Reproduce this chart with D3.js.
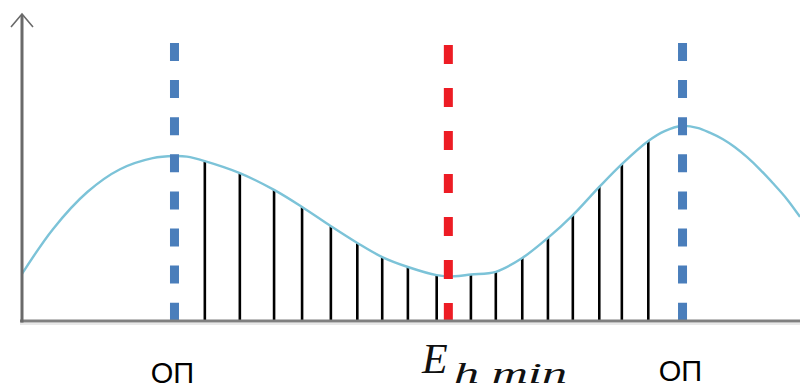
<!DOCTYPE html>
<html>
<head>
<meta charset="utf-8">
<script src="https://cdn.jsdelivr.net/npm/d3@7"></script>
<style>
  html, body { margin: 0; padding: 0; background: #fff; }
  svg { display: block; }
</style>
</head>
<body>
<svg id="chart" width="800" height="389"></svg>
<script>
// Energy profile along the coordinate (arbitrary units, 0..100 on both axes)
const curveX = [0, 4.0, 8.4, 12.6, 16.8, 19.6, 21.2,
                55.6, 82.6, 84.8, 86.8, 88.4, 90.1, 91.6, 93.2, 94.9, 96.5, 98.3, 100];
const curveY = [15.7, 30.7, 43.0, 50.6, 54.3, 55.0, 54.8,
                14.9, 63.3, 65.0, 64.4, 62.8, 60.6, 58.0, 54.6, 50.4, 46.0, 40.7, 34.7];

// Sampled points between the two maxima (vertical stems)
const stemX = [23.5, 28.0, 32.4, 36.0, 39.7, 43.1, 46.3, 49.6, 53.3,
               57.7, 60.9, 64.3, 67.6, 70.8, 74.2, 77.1, 80.5];
const stemY = [53.3, 49.3, 43.7, 38.0, 31.6, 26.0, 21.3, 18.0, 15.3,
               15.5, 16.4, 21.0, 27.7, 35.3, 44.7, 52.3, 60.0];

// Marked positions: two maxima and the minimum
const markerX = [19.6, 54.8, 84.9];
const markerKind = ["max", "min", "max"];
const markerLabel = ["ОП", "E", "ОП"];
const minSubscript = "h min";

const svg = d3.select("#chart");
const W = 800;

const x = d3.scaleLinear().domain([0, 100]).range([22, 800]);
const y = d3.scaleLinear().domain([0, 100]).range([321, 21]);

// Merge curve and stem points so that stem tops lie on the curve
const pts = curveX.map((v, i) => [v, curveY[i]])
  .concat(stemX.map((v, i) => [v, stemY[i]]))
  .sort((a, b) => a[0] - b[0]);

// Light shadow beneath the horizontal axis
svg.append("line")
  .attr("x1", 20).attr("x2", W)
  .attr("y1", y(0) + 3).attr("y2", y(0) + 3)
  .attr("stroke", "#e8e8e8").attr("stroke-width", 2);

// Stems
svg.append("g").selectAll("line")
  .data(stemX.map((v, i) => [v, stemY[i]]))
  .join("line")
  .attr("x1", d => x(d[0])).attr("x2", d => x(d[0]))
  .attr("y1", y(0)).attr("y2", d => y(d[1]))
  .attr("stroke", "#000").attr("stroke-width", 2.6);

// Energy curve
const line = d3.line()
  .x(d => x(d[0]))
  .y(d => y(d[1]))
  .curve(d3.curveCatmullRom.alpha(0.5));

svg.append("path")
  .datum(pts)
  .attr("d", line)
  .attr("fill", "none")
  .attr("stroke", "#7cc3d8")
  .attr("stroke-width", 2.4);

// Dashed markers
markerX.forEach((mx, i) => {
  const isMin = markerKind[i] === "min";
  svg.append("line")
    .attr("x1", x(mx)).attr("x2", x(mx))
    .attr("y1", isMin ? 45 : 43).attr("y2", y(0) - 1)
    .attr("stroke", isMin ? "#ed1c24" : "#4a7ebb")
    .attr("stroke-width", 9)
    .attr("stroke-dasharray", isMin ? "19,24" : "18,19.1");
});

// Axes
const xAxis = d3.axisBottom(x).ticks(0).tickSizeOuter(0);
const gx = svg.append("g").attr("transform", `translate(0,${y(0)})`).call(xAxis);
gx.select(".domain").attr("stroke", "#808080").attr("stroke-width", 3)
  .attr("d", `M20,0H${W}`);

const yAxis = d3.axisLeft(y).ticks(0).tickSizeOuter(0);
const gy = svg.append("g").attr("transform", `translate(${x(0)},0)`).call(yAxis);
gy.select(".domain").attr("stroke", "#6a6a6a").attr("stroke-width", 3)
  .attr("d", `M0,${y(0) + 1.5}V15`);

// Arrowhead on the vertical axis
svg.append("path")
  .attr("d", `M${x(0) - 11},27L${x(0)},14L${x(0) + 11},27`)
  .attr("fill", "none")
  .attr("stroke", "#6a6a6a")
  .attr("stroke-width", 1.6);

// Labels
markerX.forEach((mx, i) => {
  if (markerKind[i] === "max") {
    svg.append("text")
      .attr("x", x(mx) - 2).attr("y", i === 0 ? 383 : 381)
      .attr("text-anchor", "middle")
      .attr("font-family", "Liberation Sans, Arial, sans-serif")
      .attr("font-size", 29)
      .attr("fill", "#000")
      .text(markerLabel[i]);
  } else {
    svg.append("text")
      .attr("x", 422).attr("y", 373)
      .attr("font-family", "Liberation Serif, Times New Roman, serif")
      .attr("font-style", "italic")
      .attr("font-size", 42)
      .attr("fill", "#111")
      .text(markerLabel[i]);
    svg.append("text")
      .attr("x", 454).attr("y", 383)
      .attr("font-family", "Liberation Serif, Times New Roman, serif")
      .attr("font-style", "italic")
      .attr("font-size", 30)
      .attr("fill", "#111")
      .attr("textLength", 113)
      .attr("lengthAdjust", "spacingAndGlyphs")
      .text(minSubscript);
  }
});
</script>
</body>
</html>
